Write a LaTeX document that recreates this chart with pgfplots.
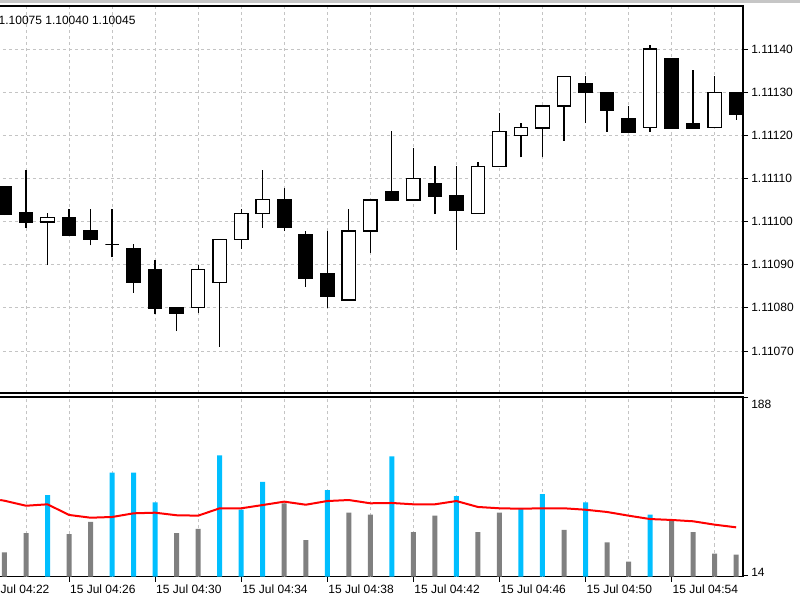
\documentclass[border=0pt]{standalone}
\usepackage{fontspec}
\setmainfont{Liberation Sans}
\usepackage{pgfplots}
\pgfplotsset{compat=1.18}
\definecolor{gridc}{HTML}{C4C4C4}
\definecolor{volblue}{HTML}{00BFFF}
\definecolor{volgray}{HTML}{808080}
\newcommand{\lblfont}{\fontsize{9}{10}\selectfont}
% candle: index, low, body low, body high, high, body fill
% prices are stored as offsets in 0.00001 from 1.11000 (e.g. 140 = 1.11140)
\newcommand{\candle}[6]{%
  \pgfmathsetmacro\xl{#1-0.31}\pgfmathsetmacro\xr{#1+0.31}%
  \addplot[black, line width=0.95pt] coordinates {(#1,#2) (#1,#5)};
  \addplot[draw=black, line width=0.95pt, fill=#6] coordinates {(\xl,#3) (\xr,#3) (\xr,#4) (\xl,#4)} -- cycle;
}
\begin{document}
\begin{tikzpicture}
\useasboundingbox (0,0) rectangle (600pt,450pt);
\fill[white] (0,0) rectangle (600pt,450pt);
\fill[gray!45] (0,447.75pt) rectangle (600pt,450pt);
% ---------- price panel ----------
\begin{axis}[
  scale only axis, width=559.5pt, height=290.25pt,
  at={(-2.25pt,155.25pt)}, anchor=south west,
  xmin=-0.3476, xmax=34.318, ymin=60.26, ymax=149.97,
  axis line style={black, line width=0.9pt},
  xtick={1,3,...,33}, xticklabels={}, xtick style={draw=none},
  ytick={70,80,...,140},
  yticklabels={1.11070,1.11080,1.11090,1.11100,1.11110,1.11120,1.11130,1.11140},
  ytick pos=right, yticklabel pos=right, tick align=outside, major tick length=3.8pt,
  ytick style={black, line width=0.7pt},
  grid=major, major grid style={gridc, dash pattern=on 2.25pt off 2.25pt, line width=0.7pt},
  yticklabel style={anchor=west, inner sep=0pt, xshift=2.2pt, font=\lblfont},
]
\candle{0}{101.5}{101.7}{108.0}{108.3}{black}
\candle{1}{98.6}{99.9}{102.0}{111.9}{black}
\candle{2}{89.9}{99.9}{100.9}{102.0}{white}
\candle{3}{96.6}{96.8}{101.0}{103.0}{black}
\candle{4}{94.5}{95.8}{97.9}{102.9}{black}
\candle{5}{91.7}{94.7}{94.7}{103.0}{white}
\candle{6}{83.5}{85.9}{93.8}{94.8}{black}
\candle{7}{78.5}{79.9}{88.9}{91.0}{black}
\candle{8}{74.6}{78.7}{80.1}{80.1}{black}
\candle{9}{78.7}{80.0}{88.9}{90.0}{white}
\candle{10}{70.9}{85.9}{95.9}{95.9}{white}
\candle{11}{93.6}{95.8}{101.9}{102.9}{white}
\candle{12}{98.6}{101.8}{105.1}{111.9}{white}
\candle{13}{97.8}{98.6}{105.1}{107.8}{black}
\candle{14}{84.9}{86.8}{96.9}{97.8}{black}
\candle{15}{79.9}{82.7}{87.9}{97.8}{black}
\candle{16}{81.6}{81.8}{97.8}{102.9}{white}
\candle{17}{92.7}{97.8}{105.0}{105.0}{white}
\candle{18}{104.9}{104.9}{107.0}{121.0}{black}
\candle{19}{105.0}{105.0}{110.0}{117.0}{white}
\candle{20}{101.7}{105.8}{108.7}{112.9}{black}
\candle{21}{93.5}{102.6}{106.0}{112.9}{black}
\candle{22}{101.8}{101.8}{112.7}{113.9}{white}
\candle{23}{112.7}{112.7}{120.9}{125.2}{white}
\candle{24}{114.9}{119.9}{121.8}{122.8}{white}
\candle{25}{114.9}{121.7}{126.8}{126.8}{white}
\candle{26}{118.7}{126.8}{133.7}{133.7}{white}
\candle{27}{122.8}{129.9}{132.0}{133.7}{black}
\candle{28}{120.8}{125.8}{130.0}{130.0}{black}
\candle{29}{120.7}{120.7}{123.8}{126.8}{black}
\candle{30}{120.8}{121.8}{140.0}{140.9}{white}
\candle{31}{121.7}{121.7}{137.7}{137.7}{black}
\candle{32}{121.7}{121.7}{122.8}{135.1}{black}
\candle{33}{121.8}{121.8}{130.0}{133.8}{white}
\candle{34}{123.6}{124.8}{130.0}{130.0}{black}
\end{axis}
% ---------- volume panel ----------
\begin{axis}[
  scale only axis, width=559.5pt, height=134.625pt,
  at={(-2.25pt,17.625pt)}, anchor=south west,
  xmin=-0.3476, xmax=34.318, ymin=12.53, ymax=188,
  axis line style={black, line width=0.9pt},
  xtick={3,7,...,31},
  xticklabels={15 Jul 04:26,15 Jul 04:30,15 Jul 04:34,15 Jul 04:38,15 Jul 04:42,15 Jul 04:46,15 Jul 04:50,15 Jul 04:54},
  xtick pos=bottom,
  xticklabel style={anchor=north west, inner sep=0pt, xshift=0.6pt, yshift=-2.6pt, font=\lblfont},
  extra x ticks={1,5,...,33}, extra x tick labels={},
  extra x tick style={grid=major, tick style={draw=none}},
  xmajorgrids, ymajorgrids=false,
  major grid style={gridc, dash pattern=on 2.25pt off 2.25pt, line width=0.7pt},
  ytick={188}, yticklabels={188},
  extra y ticks={14}, extra y tick labels={14},
  extra y tick style={yticklabel style={anchor=south west, yshift=0.6pt}},
  ytick pos=right, yticklabel pos=right, tick align=outside, major tick length=3.8pt,
  tick style={black, line width=0.7pt},
  yticklabel style={anchor=north west, inner sep=0pt, xshift=2.2pt, yshift=-2pt, font=\lblfont},
]
\addplot[ybar, bar width=3.75pt, bar shift=0pt, fill=volgray, draw=none] coordinates {
(0,36) (1,55) (3,54) (4,66) (8,55) (9,59) (13,84) (14,48) (16,75) (17,73) (19,56)
(20,72) (22,56) (23,75) (26,58) (28,46) (29,27) (31,67) (32,56) (33,35) (34,34)};
\addplot[ybar, bar width=3.75pt, bar shift=0pt, fill=volblue, draw=none] coordinates {
(2,92) (5,114) (6,114) (7,85) (10,131) (11,78) (12,105) (15,97) (18,130) (21,91)
(24,79) (25,93) (27,85) (30,73)};
\addplot[red, line width=1.5pt] coordinates {
(-0.2,87.3) (0,86.6) (1,81.7) (2,83.1) (3,72.7) (4,70.0) (5,70.7) (6,74.3) (7,74.9)
(8,72.4) (9,72.0) (10,79.2) (11,79.2) (12,82.4) (13,85.7) (14,82.7) (15,86.3)
(16,87.3) (17,84.1) (18,84.4) (19,83.1) (20,83.1) (21,86.3) (22,80.5) (23,79.2)
(24,78.8) (25,79.2) (26,79.2) (27,77.8) (28,75.6) (29,72.0) (30,68.7) (31,67.8)
(32,66.5) (33,63.2) (34,60.6)};
\coordinate (c22) at (axis cs:-1,12.53);
\end{axis}
\node[anchor=north west, inner sep=0pt, font=\lblfont, xshift=0.6pt, yshift=-6.4pt] at (c22) {15 Jul 04:22};
\node[anchor=west, inner sep=0pt, font=\lblfont] at (-1.2pt,434.5pt) {1.10075 1.10040 1.10045};
\end{tikzpicture}
\end{document}
